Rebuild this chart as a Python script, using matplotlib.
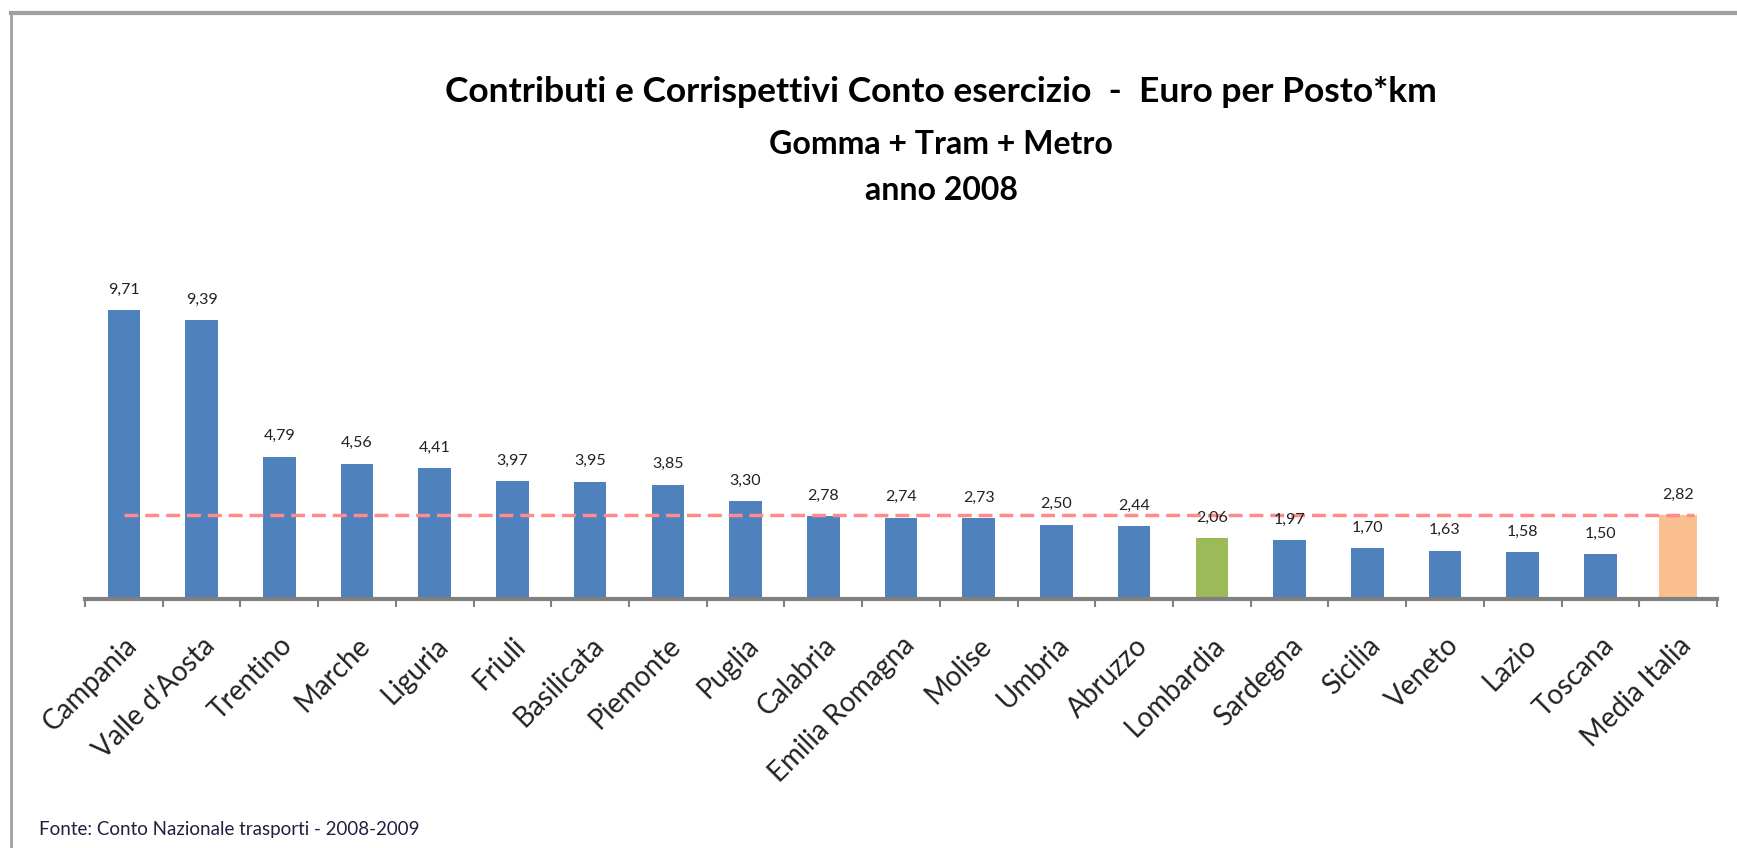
import numpy as np
import matplotlib.pyplot as plt
from matplotlib.lines import Line2D

plt.rcParams['font.family'] = ['Lato', 'DejaVu Sans']

regions = ["Campania", "Valle d'Aosta", "Trentino", "Marche", "Liguria", "Friuli",
           "Basilicata", "Piemonte", "Puglia", "Calabria", "Emilia Romagna", "Molise",
           "Umbria", "Abruzzo", "Lombardia", "Sardegna", "Sicilia", "Veneto", "Lazio",
           "Toscana", "Media Italia"]
values = [9.71, 9.39, 4.79, 4.56, 4.41, 3.97, 3.95, 3.85, 3.30, 2.78, 2.74, 2.73,
          2.50, 2.44, 2.06, 1.97, 1.70, 1.63, 1.58, 1.50, 2.82]
media = 2.82

BLUE = "#4F81BD"
GREEN = "#9BBB59"
ORANGE = "#FAC090"

colors = [BLUE] * len(regions)
colors[regions.index("Lombardia")] = GREEN
colors[-1] = ORANGE
widths = [0.42] * len(regions)
widths[-1] = 0.48

W, H = 1737, 848
fig = plt.figure(figsize=(W / 100, H / 100), dpi=100)

# frame of the original sheet (cut at right and bottom)
fig.add_artist(Line2D([11 / W, 1.0], [1 - 13 / H, 1 - 13 / H], color="#A0A0A0", lw=3,
                      transform=fig.transFigure))
fig.add_artist(Line2D([11 / W, 11 / W], [0, 1 - 13 / H], color="#A0A0A0", lw=2,
                      transform=fig.transFigure))

left, right = 85, 1717
base, top = 599, 287
ax = fig.add_axes([left / W, 1 - base / H, (right - left) / W, (base - top) / H])

x = np.arange(len(regions))
ax.bar(x, values, width=widths, color=colors, zorder=2)
ax.plot([x[0], x[-1] + 0.2], [media, media], color="#FF8C8C", lw=2.5,
        dashes=(4, 2), zorder=3)

for xi, v in zip(x, values):
    ax.text(xi, v + 0.45, f"{v:.2f}".replace(".", ","), ha="center", va="bottom",
            fontsize=11.5, color="#222222", zorder=4)

ax.set_xlim(-0.5, len(regions) - 0.5)
ax.set_ylim(0, 10.5)
ax.set_yticks([])
for s in ["top", "right", "left"]:
    ax.spines[s].set_visible(False)
ax.spines["bottom"].set_color("#808080")
ax.spines["bottom"].set_linewidth(3)

ax.set_xticks(x)
ax.set_xticklabels(regions, rotation=45, ha="right", rotation_mode="anchor",
                   fontsize=20, color="#222222")
ax.tick_params(axis="x", which="major", length=0, pad=24)
ax.set_xticks(np.arange(len(regions) + 1) - 0.5, minor=True)
ax.tick_params(axis="x", which="minor", length=6, width=1.5, color="#808080")

fig.text(941 / W, 1 - 92 / H, "Contributi e Corrispettivi Conto esercizio  -  Euro per Posto*km",
         ha="center", va="center", fontsize=25.5, fontweight="bold")
fig.text(941 / W, 1 - 144 / H, "Gomma + Tram + Metro", ha="center", va="center",
         fontsize=23, fontweight="bold")
fig.text(941 / W, 1 - 190 / H, "anno 2008", ha="center", va="center",
         fontsize=23, fontweight="bold")
fig.text(39 / W, 1 - 829 / H, "Fonte: Conto Nazionale trasporti - 2008-2009",
         ha="left", va="center", fontsize=13.5, color="#202040")

fig.savefig("out.png", dpi=100)
